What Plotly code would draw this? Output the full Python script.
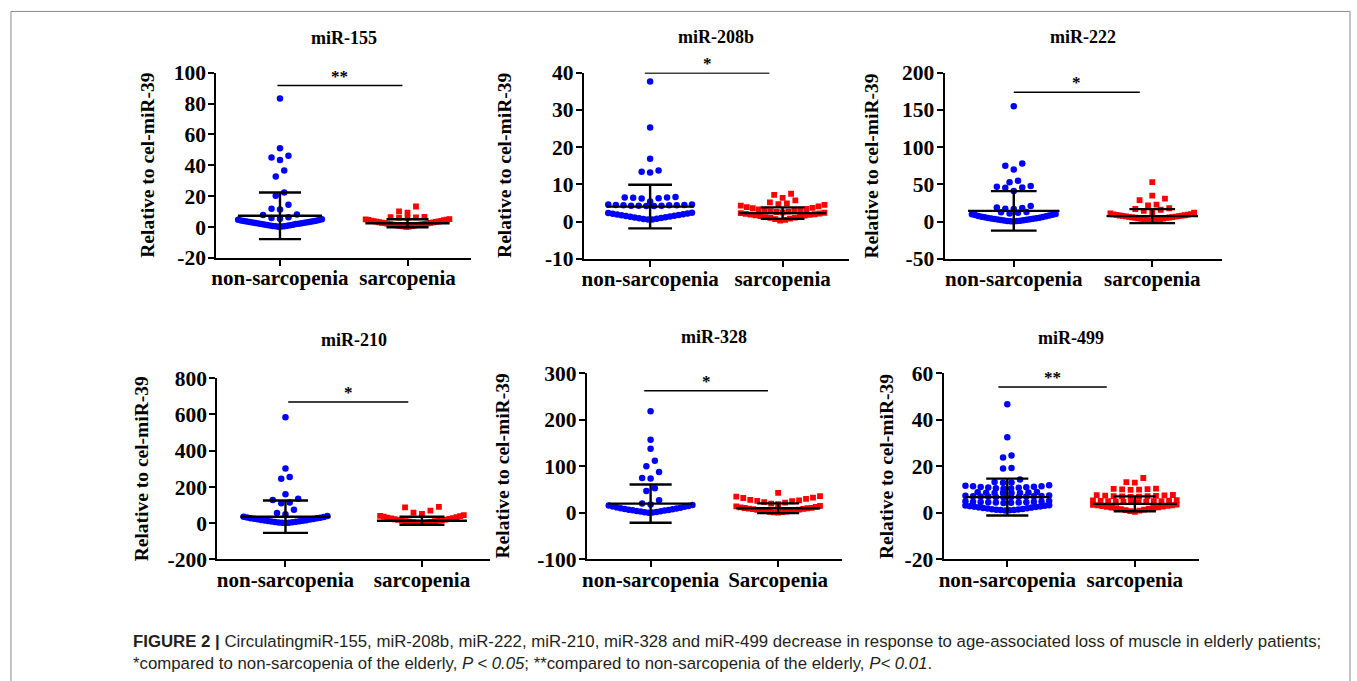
import numpy as np
import plotly.graph_objects as go

W, H = 1357, 681

# ---------------- data ----------------
panel_titles = ["miR-155", "miR-208b", "miR-222", "miR-210", "miR-328", "miR-499"]
categories = [
    ["non-sarcopenia", "sarcopenia"],
    ["non-sarcopenia", "sarcopenia"],
    ["non-sarcopenia", "sarcopenia"],
    ["non-sarcopenia", "sarcopenia"],
    ["non-sarcopenia", "Sarcopenia"],
    ["non-sarcopenia", "sarcopenia"],
]
y_label = "Relative to cel-miR-39"
y_tick_vals = [
    [-20, 0, 20, 40, 60, 80, 100],
    [-10, 0, 10, 20, 30, 40],
    [-50, 0, 50, 100, 150, 200],
    [-200, 0, 200, 400, 600, 800],
    [-100, 0, 100, 200, 300],
    [-20, 0, 20, 40, 60],
]
y_tick_text = [
    ["-20", "0", "20", "40", "60", "80", "100"],
    ["-10", "0", "10", "20", "30", "40"],
    ["-50", "0", "50", "100", "150", "200"],
    ["-200", "0", "200", "400", "600", "800"],
    ["-100", "0", "100", "200", "300"],
    ["-20", "0", "20", "40", "60"],
]
sig_text = ["**", "*", "*", "*", "*", "**"]

mir155_non = [83.2, 51.0, 46.2, 45.1, 43.4, 36.6, 32.8, 22.3, 20.3, 14.4, 11.9, 11.3,
              8.1, 7.8, 6.3, 5.9, 5.4, 5.1, 4.8, 4.6, 4.3, 4.1, 3.9, 3.8, 3.6, 3.5, 3.3,
              3.1, 3.0, 2.8, 2.7, 2.5, 2.3, 2.2, 2.0, 1.9, 1.7, 1.5, 1.4, 1.2, 1.0, 0.9,
              0.7, 0.6, 0.5, 0.3, 0.2]
mir155_sarc = [13.3, 10.2, 9.3, 6.6, 6.4, 6.3, 6.1, 5.9, 5.2, 5.0, 4.8, 4.6, 4.4, 4.2,
               4.0, 3.8, 3.6, 3.5, 3.3, 3.1, 3.0, 2.8, 2.7, 2.5, 2.4, 2.2, 2.1, 1.9, 1.8,
               1.6, 1.5, 1.3, 1.2, 1.0, 0.9, 0.7, 0.6, 0.4, 0.3, 0.1]
mir208b_non = [37.6, 25.3, 16.9, 13.7, 13.4, 13.2, 6.6, 6.5, 6.5, 6.4, 6.3, 6.2, 5.4,
               4.6, 4.6, 4.5, 4.5, 4.4, 4.4, 4.4, 4.3, 4.3, 4.3, 4.2, 4.2, 2.4, 2.3,
               2.2, 2.1, 2.0, 1.9, 1.8, 1.7, 1.6, 1.5, 1.4, 1.3, 1.2, 1.1, 1.0, 0.9,
               0.8, 0.7, 0.6, 0.6]
mir208b_sarc = [7.5, 7.2, 6.4, 5.7, 5.2, 4.9, 4.7, 4.5, 4.3, 4.1, 3.9, 3.7, 3.6, 3.4,
                3.3, 3.1, 3.0, 2.9, 2.8, 2.7, 2.6, 2.5, 2.4, 2.3, 2.2, 2.1, 2.0, 1.9, 1.8,
                1.7, 1.6, 1.5, 1.4, 1.2, 1.1, 1.0, 0.8, 0.7, 0.5, 0.3]
mir222_non = [155, 78, 75, 70, 55, 53, 48, 47, 46, 45.5, 41, 21, 19, 18.5, 17.5, 17, 13,
              12.5, 12, 11, 10.4, 9.9, 9.3, 8.8, 8.2, 7.7, 7.2, 6.7, 6.2, 5.8, 5.4, 5.0,
              4.6, 4.2, 3.9, 3.5, 3.1, 2.8, 2.5, 2.2, 1.9, 1.6, 1.3, 1.0, 0.8, 0.5, 0.2]
mir222_sarc = [53, 35, 31, 29, 23, 22, 18, 17, 16, 14.5, 13, 12, 11, 10.2, 9.8, 9.4, 9.0,
               8.6, 8.3, 8.0, 7.7, 7.4, 7.1, 6.8, 6.5, 6.2, 5.9, 5.6, 5.3, 5.0, 4.6, 4.2,
               3.8, 3.4, 3.0, 2.6, 2.2, 1.8, 1.4]
mir210_non = [585, 302, 255, 245, 160, 135, 128, 115, 110, 75, 57, 50, 40, 36, 34, 32,
              30, 28, 27, 25, 23, 22, 20, 18, 17, 15, 14, 12, 11, 9, 8, 7, 5, 4, 3, 2, 1]
mir210_sarc = [90, 88, 70, 58, 52, 45, 41, 39, 36, 33, 31, 28, 26, 24, 22, 20, 19, 17,
               15, 14, 12, 11, 9, 8, 6, 5, 3, 2, 1]
mir328_non = [218, 157, 138, 112, 100, 88, 75, 74, 53, 47, 27, 20, 18, 17, 16, 15, 14,
              13, 12, 11, 10, 9.5, 8.5, 8, 7, 6, 5.5, 5, 4, 3.5, 3, 2, 1.5, 1, 0.5]
mir328_sarc = [43, 36, 35, 33, 32, 30, 28, 27, 26, 25, 23, 22, 20, 19, 15, 14, 13, 12,
               11, 10.5, 10, 9, 8.5, 8, 7, 6.5, 6, 5, 4.5, 4, 3, 2.5, 2, 1, 0.5]
mir499_non = [46.7, 32.5, 24.6, 23.8, 19.3, 19.1, 14.3, 13.3, 13.1, 12.9,
              11.9, 11.7, 11.5, 11.4, 11.2, 11.1, 11.0, 10.9, 10.8, 10.6, 10.5, 10.4,
              9.0, 8.9, 8.8, 8.7, 8.6, 8.6, 8.5, 8.5,
              7.5, 7.4, 7.3, 7.2, 7.2, 7.1, 7.0, 7.0, 6.9, 6.8, 6.8, 6.7,
              5.1, 5.0, 4.9, 4.8, 4.8, 4.7, 4.6, 4.6, 4.5, 4.5, 4.4, 4.3,
              3.3, 3.2, 3.1, 2.9, 2.8, 2.7, 2.5, 2.4, 2.3, 2.1, 2.0, 1.9, 1.7, 1.6,
              1.5, 1.4, 1.3, 1.2, 1.1, 1.0]
mir499_sarc = [15.0, 13.2, 13.0, 10.4, 10.3, 10.2, 10.1, 10.0, 9.9,
               7.7, 7.6, 7.5, 7.4, 7.3, 7.2, 7.2, 7.1, 7.0, 6.9,
               5.5, 5.4, 5.3, 5.2, 5.1, 5.0, 5.0, 4.9, 4.8, 4.7, 4.6, 4.6,
               3.6, 3.5, 3.3, 3.2, 3.0, 2.9, 2.7, 2.6, 2.4, 2.3, 2.1, 2.0, 1.8, 1.6,
               1.4, 1.2, 1.0, 0.8, 0.5]

group_values = [
    [mir155_non, mir155_sarc],
    [mir208b_non, mir208b_sarc],
    [mir222_non, mir222_sarc],
    [mir210_non, mir210_sarc],
    [mir328_non, mir328_sarc],
    [mir499_non, mir499_sarc],
]
# mean and SD as drawn by the error bars
group_means = [[7.3, 2.5], [4.05, 2.3], [14.5, 7.4], [36.0, 14.0], [20.0, 10.0], [6.8, 3.9]]
group_sds = [[15.1, 2.6], [5.85, 1.55], [26.5, 9.4], [89.0, 22.0], [41.0, 10.5], [7.9, 3.2]]

caption_line1 = ("<b>FIGURE 2 |</b> CirculatingmiR-155, miR-208b, miR-222, miR-210, miR-328 and "
                 "miR-499 decrease in response to age-associated loss of muscle in elderly patients;")
caption_line2 = ("*compared to non-sarcopenia of the elderly, <i>P &lt; 0.05</i>; **compared to "
                 "non-sarcopenia of the elderly, <i>P&lt; 0.01</i>.")

# ---------------- layout (target pixel positions in the picture) ----------------
panel_px = [
    (212, 468, 73, 258),
    (581, 847, 73, 259),
    (943, 1221, 73, 259),
    (213, 487, 378, 559),
    (584, 840, 373, 559),
    (942, 1198, 373, 559),
]
ytitle_x_px = [143, 502, 870, 137, 499, 885]
title_y_px = [38, 37, 37, 340, 337, 338]
sig_bar = [(-0.02, 0.96, 91.6), (-0.04, 0.90, 39.9), (0.0, 0.91, 173.5),
           (0.02, 0.90, 669), (-0.05, 0.92, 262), (-0.07, 0.78, 54.1)]

# the photographed page is drawn slightly compressed vertically; compensate
Y_OFF, Y_SCALE = 11.5, 0.963


def px_x(x):
    return x / W


def px_y(y):
    return 1 - ((y - Y_OFF) / Y_SCALE) / H


colors = ["#0000ff", "#ff0000"]
symbols = ["circle", "square"]
msize = [6.5, 5.8]
SERIF = "Liberation Serif, Times New Roman, serif"
SANS = "Liberation Sans, Arial, sans-serif"


def row_layout(values, ppx_x, ppx_y, gap_px=2.0, max_row_px=8.0, dense_n=4,
               d=8.5, max_hw_px=42.0):
    """Prism-like scatter dot layout: sorted values are grouped into rows (a row is
    closed when it gets too tall, or, once it is dense, at a vertical gap); each row
    is spread horizontally with its lowest values in the middle."""
    vals = np.asarray(values, dtype=float)
    order = list(np.argsort(vals, kind="stable"))
    rows, cur, start, prev = [], [], None, None
    for idx in order:
        v = vals[idx] * ppx_y
        if cur and (v - start > max_row_px or (len(cur) >= dense_n and v - prev > gap_px)):
            rows.append(cur)
            cur = []
        if not cur:
            start = v
        cur.append(idx)
        prev = v
    if cur:
        rows.append(cur)
    offs = np.zeros(len(vals))
    for row in rows:
        n = len(row)
        if n == 1:
            continue
        sp = min(d, 2 * max_hw_px / (n - 1))
        pos = [(i - (n - 1) / 2.0) * sp for i in range(n)]
        slot_order = sorted(range(n), key=lambda i: (round(abs(pos[i]), 6), pos[i]))
        for idx, slot in zip(row, slot_order):
            offs[idx] = pos[slot] / ppx_x
    return offs


fig = go.Figure()
annotations = []
shapes = []

for p in range(6):
    xl, xr, yt, yb = panel_px[p]
    ax = "" if p == 0 else str(p + 1)
    xa, ya = "x" + ax, "y" + ax
    ymin, ymax = y_tick_vals[p][0], y_tick_vals[p][-1]
    ppx_x = (xr - xl) / 2.0
    ppx_y = (yb - yt) / (ymax - ymin)

    for g in range(2):
        vals = group_values[p][g]
        offs = row_layout(vals, ppx_x, ppx_y)
        fig.add_trace(go.Scatter(
            x=g + offs, y=vals, mode="markers", xaxis=xa, yaxis=ya,
            marker=dict(color=colors[g], symbol=symbols[g], size=msize[g], line=dict(width=0)),
            showlegend=False, hoverinfo="y"))
    for g in range(2):
        m, s = group_means[p][g], group_sds[p][g]
        ex = [g - 0.33, g + 0.33, None, g, g, None, g - 0.165, g + 0.165, None, g - 0.165, g + 0.165]
        ey = [m, m, None, m - s, m + s, None, m + s, m + s, None, m - s, m - s]
        fig.add_trace(go.Scatter(x=ex, y=ey, mode="lines", xaxis=xa, yaxis=ya,
                                 line=dict(color="black", width=2.4),
                                 showlegend=False, hoverinfo="skip"))

    axis_common = dict(showline=True, linecolor="black", linewidth=2, ticks="outside",
                       ticklen=6, tickwidth=2, tickcolor="black", showgrid=False,
                       zeroline=False, fixedrange=True)
    fig.update_layout(**{
        ("xaxis" + ax): dict(domain=[px_x(xl), px_x(xr)], range=[-0.5, 1.5], anchor=ya,
                             tickvals=[0, 1], ticktext=categories[p], ticklabelstandoff=-6,
                             tickfont=dict(family=SERIF, size=21, color="black", weight="bold"),
                             **axis_common),
        ("yaxis" + ax): dict(domain=[px_y(yb), px_y(yt)], range=[ymin, ymax], anchor=xa,
                             tickvals=y_tick_vals[p], ticktext=y_tick_text[p], ticklabelstandoff=-2,
                             tickfont=dict(family=SERIF, size=21.5, color="black", weight="bold"),
                             **axis_common),
    })

    annotations.append(dict(x=px_x((xl + xr) / 2), y=px_y(title_y_px[p]), xref="paper", yref="paper",
                            text="<b>%s</b>" % panel_titles[p], showarrow=False,
                            font=dict(family=SERIF, size=18, color="black"),
                            xanchor="center", yanchor="middle"))
    annotations.append(dict(x=px_x(ytitle_x_px[p]), y=px_y((yt + yb) / 2), xref="paper", yref="paper",
                            text="<b>%s</b>" % y_label, showarrow=False, textangle=-90,
                            font=dict(family=SERIF, size=19.5, color="black"),
                            xanchor="center", yanchor="middle"))
    x0, x1, yb_val = sig_bar[p]
    shapes.append(dict(type="line", xref=xa, yref=ya, x0=x0, x1=x1, y0=yb_val, y1=yb_val,
                       line=dict(color="black", width=1.5)))
    annotations.append(dict(x=(x0 + x1) / 2, y=yb_val, xref=xa, yref=ya, text="<b>%s</b>" % sig_text[p],
                            showarrow=False, font=dict(family=SERIF, size=17, color="black"),
                            xanchor="center", yanchor="bottom", yshift=-2))

annotations.append(dict(x=px_x(126), y=px_y(641), xref="paper", yref="paper", text=caption_line1,
                        showarrow=False, xanchor="left", yanchor="middle",
                        font=dict(family=SANS, size=16.8, color="#231f20")))
annotations.append(dict(x=px_x(126), y=px_y(663), xref="paper", yref="paper", text=caption_line2,
                        showarrow=False, xanchor="left", yanchor="middle",
                        font=dict(family=SANS, size=16.8, color="#231f20")))
shapes.append(dict(type="rect", xref="paper", yref="paper", x0=px_x(6), x1=px_x(1350),
                   y0=-0.1, y1=0.9993, line=dict(color="#8a8a8a", width=1)))

fig.update_layout(width=W, height=H, autosize=False, margin=dict(l=0, r=0, t=0, b=0),
                  paper_bgcolor="white", plot_bgcolor="white",
                  annotations=annotations, shapes=shapes, showlegend=False)

# pin the figure to the top-left corner of the page (no body margin / scrollbars)
pin_js = ("document.documentElement.style.overflow='hidden';"
          "document.body.style.margin='0';document.body.style.padding='0';"
          "var gd=document.getElementById('{plot_id}');"
          "gd.style.position='absolute';gd.style.left='0px';gd.style.top='0px';")

fig.write_html("out.html", post_script=pin_js, config={"displayModeBar": False})
